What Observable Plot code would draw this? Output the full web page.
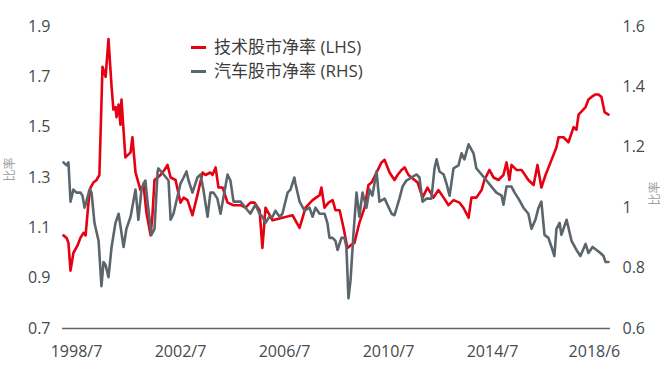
<!DOCTYPE html>
<html>
<head>
<meta charset="utf-8">
<script src="https://cdn.jsdelivr.net/npm/d3@7"></script>
<script src="https://cdn.jsdelivr.net/npm/@observablehq/plot@0.6"></script>
<style>
  html, body { margin: 0; padding: 0; background: #fff; }
  #wrap { position: relative; width: 670px; height: 373px; font-family: "Open Sans", "Noto Sans CJK SC", sans-serif; }
  #legend { position: absolute; left: 191px; top: 35px; font-size: 17px; color: #3c3c3c; line-height: 24px; }
  #legend .row { display: flex; align-items: center; white-space: nowrap; }
  #legend .sw { width: 15px; height: 3px; margin-right: 8px; }
</style>
</head>
<body>
<div id="wrap">
  <div id="legend"></div>
</div>
<script>
// Series names
const seriesNames = ["技术股市净率 (LHS)", "汽车股市净率 (RHS)"];
const seriesColors = ["#e60012", "#5b666c"];

// 技术股市净率 (LHS): time in decimal years, values
const techYear = [1998.00,1998.12,1998.19,1998.27,1998.38,1998.54,1998.65,1998.77,1998.85,1998.96,
  1999.04,1999.15,1999.27,1999.38,1999.50,1999.62,1999.73,1999.85,1999.92,2000.00,
  2000.04,2000.12,2000.19,2000.23,2000.38,2000.58,2000.65,2000.77,2000.88,2000.96,
  2001.08,2001.19,2001.35,2001.42,2001.50,2001.62,2001.73,2001.88,2002.00,2002.12,
  2002.31,2002.50,2002.62,2002.77,2002.96,2003.15,2003.35,2003.46,2003.65,2003.73,
  2003.85,2003.96,2004.12,2004.31,2004.54,2004.81,2005.00,2005.19,2005.35,2005.54,
  2005.65,2005.77,2006.04,2006.42,2006.81,2007.08,2007.31,2007.58,2007.85,2007.92,
  2008.04,2008.19,2008.35,2008.46,2008.62,2008.77,2008.92,2009.04,2009.19,2009.38,
  2009.58,2009.73,2009.85,2010.04,2010.23,2010.35,2010.54,2010.73,2010.85,2011.00,
  2011.12,2011.27,2011.38,2011.62,2011.81,2012.00,2012.23,2012.42,2012.62,2012.81,
  2013.00,2013.23,2013.38,2013.58,2013.69,2013.88,2014.08,2014.19,2014.38,2014.54,
  2014.73,2014.92,2015.04,2015.15,2015.23,2015.42,2015.62,2015.88,2016.08,2016.23,
  2016.38,2016.54,2016.77,2016.96,2017.04,2017.23,2017.42,2017.62,2017.73,2017.81,
  2018.08,2018.19,2018.31,2018.46,2018.58,2018.69,2018.81,2018.96];
const techPB = [1.07,1.06,1.04,0.93,1.00,1.03,1.06,1.08,1.07,1.20,
  1.26,1.28,1.29,1.31,1.74,1.70,1.85,1.66,1.57,1.58,
  1.54,1.59,1.51,1.61,1.38,1.40,1.46,1.32,1.28,1.25,
  1.27,1.16,1.07,1.15,1.29,1.30,1.31,1.33,1.35,1.30,
  1.29,1.20,1.22,1.21,1.15,1.23,1.32,1.31,1.32,1.31,
  1.34,1.26,1.26,1.20,1.19,1.19,1.18,1.20,1.20,1.17,
  1.02,1.18,1.13,1.14,1.15,1.10,1.18,1.21,1.23,1.26,
  1.18,1.20,1.21,1.17,1.17,1.10,1.02,1.03,1.04,1.12,
  1.18,1.27,1.28,1.32,1.36,1.37,1.32,1.29,1.31,1.33,
  1.34,1.31,1.30,1.28,1.22,1.26,1.22,1.25,1.22,1.19,
  1.21,1.20,1.18,1.14,1.22,1.22,1.25,1.29,1.33,1.30,
  1.29,1.31,1.36,1.29,1.35,1.33,1.33,1.29,1.27,1.35,
  1.26,1.31,1.37,1.42,1.46,1.46,1.44,1.50,1.49,1.55,
  1.58,1.61,1.62,1.63,1.63,1.62,1.56,1.55];

// 汽车股市净率 (RHS): time in decimal years, values
const autoYear = [1998.00,1998.12,1998.19,1998.27,1998.38,1998.50,1998.65,1998.73,1998.81,1998.88,
  1999.00,1999.08,1999.19,1999.35,1999.46,1999.54,1999.62,1999.73,1999.85,2000.00,
  2000.12,2000.19,2000.31,2000.42,2000.58,2000.77,2000.88,2001.00,2001.08,2001.15,
  2001.23,2001.38,2001.50,2001.62,2001.65,2001.85,2002.04,2002.12,2002.23,2002.50,
  2002.62,2002.73,2002.81,2002.96,2003.15,2003.27,2003.38,2003.54,2003.65,2003.77,
  2003.92,2004.04,2004.31,2004.42,2004.54,2004.69,2004.81,2005.00,2005.19,2005.38,
  2005.54,2005.65,2005.77,2005.92,2006.04,2006.15,2006.31,2006.42,2006.62,2006.73,
  2006.88,2006.92,2007.08,2007.27,2007.46,2007.58,2007.69,2007.85,2008.04,2008.15,
  2008.23,2008.35,2008.46,2008.54,2008.69,2008.81,2008.88,2008.96,2009.04,2009.15,
  2009.27,2009.38,2009.50,2009.65,2009.77,2009.88,2010.04,2010.15,2010.35,2010.62,
  2010.73,2010.92,2011.04,2011.19,2011.38,2011.58,2011.69,2011.81,2011.96,2012.15,
  2012.27,2012.35,2012.46,2012.62,2012.73,2012.85,2013.00,2013.19,2013.31,2013.42,
  2013.58,2013.77,2013.88,2014.08,2014.27,2014.46,2014.65,2014.85,2014.92,2015.04,
  2015.23,2015.35,2015.50,2015.69,2015.88,2016.00,2016.15,2016.27,2016.38,2016.50,
  2016.65,2016.77,2016.88,2016.96,2017.08,2017.15,2017.35,2017.54,2017.73,2017.88,
  2018.08,2018.19,2018.35,2018.50,2018.65,2018.77,2018.85,2018.96];
const autoPB = [1.15,1.14,1.15,1.02,1.06,1.05,1.05,1.04,1.00,1.02,
  1.06,1.05,0.95,0.89,0.74,0.82,0.81,0.77,0.87,0.95,
  0.98,0.94,0.87,0.93,0.97,1.06,0.96,1.06,1.08,1.09,
  1.02,0.91,0.93,1.12,1.13,1.11,1.09,0.96,0.98,1.08,
  1.10,1.12,1.09,1.05,1.10,1.11,1.06,0.97,1.05,1.05,
  1.03,0.98,1.11,1.09,1.02,1.02,1.02,1.00,0.98,1.01,
  0.98,0.97,0.95,0.97,0.97,0.99,0.97,0.98,1.05,1.06,
  1.10,1.08,1.02,0.99,1.00,0.97,1.00,0.98,0.98,0.95,
  0.90,0.90,0.89,0.86,0.90,0.90,0.87,0.70,0.76,0.91,
  1.05,0.97,1.05,1.00,1.06,1.04,1.12,1.02,1.03,0.98,
  0.975,1.03,1.07,1.09,1.10,1.11,1.10,1.02,1.03,1.03,
  1.13,1.16,1.12,1.11,1.08,1.04,1.13,1.14,1.18,1.16,
  1.21,1.18,1.13,1.11,1.09,1.07,1.05,1.04,1.01,1.07,
  1.07,1.05,1.03,1.00,0.98,0.93,0.96,1.00,1.02,0.91,
  0.90,0.87,0.84,0.93,0.95,0.91,0.96,0.89,0.86,0.84,
  0.88,0.85,0.87,0.86,0.85,0.84,0.82,0.82];

// Axis ticks
const leftTicks = [0.7, 0.9, 1.1, 1.3, 1.5, 1.7, 1.9];
const leftTickLabels = ["0.7", "0.9", "1.1", "1.3", "1.5", "1.7", "1.9"];
const rightTicks = [0.6, 0.8, 1.0, 1.2, 1.4, 1.6];
const rightTickLabels = ["0.6", "0.8", "1", "1.2", "1.4", "1.6"];
const xTicks = [1998.5, 2002.5, 2006.5, 2010.5, 2014.5, 2018.42];
const xTickLabels = ["1998/7", "2002/7", "2006/7", "2010/7", "2014/7", "2018/6"];
const axisTitle = "比率";

// right-axis (RHS) to left-axis (LHS) mapping
const leftDomain = [0.7, 1.9];
const rightDomain = [0.6, 1.6];
const toLeft = d3.scaleLinear().domain(rightDomain).range(leftDomain);

const tech = techYear.map((t, i) => ({t, v: techPB[i]}));
const auto = autoYear.map((t, i) => ({t, v: toLeft(autoPB[i])}));

const rightPos = rightTicks.map(r => toLeft(r));

const tickColor = "#444a4e";
const fontFamily = '"Open Sans", "Noto Sans CJK SC", sans-serif';

const chart = Plot.plot({
  width: 670,
  height: 373,
  marginLeft: 63,
  marginRight: 61,
  marginTop: 26,
  marginBottom: 45,
  style: {fontFamily, fontSize: "16px", color: tickColor, background: "#fff"},
  x: {domain: [1998, 2019]},
  y: {domain: leftDomain},
  marks: [
    Plot.axisY(leftTicks, {anchor: "left", tickSize: 0, tickPadding: 13,
      tickFormat: d => leftTickLabels[leftTicks.findIndex(v => Math.abs(v - d) < 1e-9)], label: null, fontSize: 16}),
    Plot.axisY(rightPos, {anchor: "right", tickSize: 0, tickPadding: 13,
      tickFormat: d => rightTickLabels[rightPos.findIndex(v => Math.abs(v - d) < 1e-9)], label: null, fontSize: 16}),
    Plot.axisX(xTicks, {anchor: "bottom", tickSize: 0, tickPadding: 17,
      tickFormat: d => xTickLabels[xTicks.indexOf(d)], label: null, fontSize: 16}),
    Plot.ruleY([leftDomain[0]], {stroke: "#5b666c", strokeWidth: 1.6, insetLeft: -1, insetRight: -1}),
    Plot.text([axisTitle], {frameAnchor: "left", rotate: -90, dx: -53, dy: 4, fontSize: 12, fill: "#a0a0a0"}),
    Plot.text([axisTitle], {frameAnchor: "right", rotate: -90, dx: 46, dy: 4, fontSize: 12, fill: "#a0a0a0"}),
    Plot.line(tech, {x: "t", y: "v", stroke: seriesColors[0], strokeWidth: 2.6, strokeLinejoin: "round"}),
    Plot.line(auto, {x: "t", y: "v", stroke: seriesColors[1], strokeWidth: 2.6, strokeLinejoin: "round"})
  ]
});

const wrap = document.getElementById("wrap");
wrap.insertBefore(chart, wrap.firstChild);

const legend = document.getElementById("legend");
seriesNames.forEach((name, i) => {
  const row = document.createElement("div");
  row.className = "row";
  const sw = document.createElement("span");
  sw.className = "sw";
  sw.style.background = seriesColors[i];
  const tx = document.createElement("span");
  tx.textContent = name;
  row.appendChild(sw);
  row.appendChild(tx);
  legend.appendChild(row);
});
</script>
</body>
</html>
